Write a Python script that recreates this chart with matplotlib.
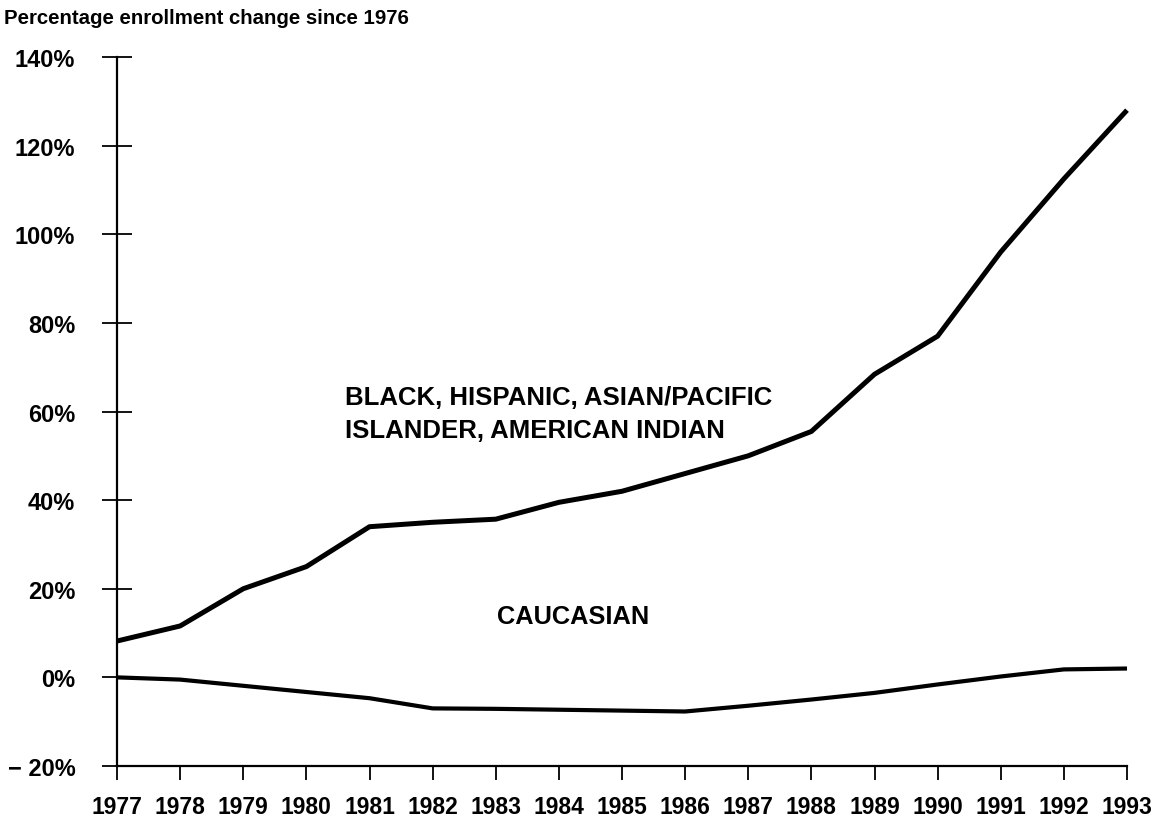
import numpy as np
import matplotlib.pyplot as plt

# values (percent change since 1976)
years = list(range(1977, 1994))
minority = [8.2, 11.6, 20.0, 25.0, 34.0, 35.0, 35.7, 39.5, 42.0, 46.0,
            50.0, 55.5, 68.4, 77.0, 96.0, 112.5, 128.0]
caucasian = [0.0, -0.5, -1.9, -3.3, -4.7, -7.0, -7.1, -7.3, -7.5, -7.7,
             -6.4, -5.0, -3.5, -1.6, 0.2, 1.8, 2.0]
y_ticks = [-20, 0, 20, 40, 60, 80, 100, 120, 140]
y_labels = ['\u2212 20%', '0%', '20%', '40%', '60%', '80%', '100%', '120%', '140%']

plt.rcParams['font.family'] = ['Liberation Sans', 'DejaVu Sans']
plt.rcParams['font.weight'] = 'bold'

fig = plt.figure(figsize=(11.59, 8.2), dpi=100, facecolor='white')
ax = fig.add_axes([117 / 1159, 1 - 767 / 820, (1127 - 117) / 1159, (767 - 58) / 820])

ax.plot(years, minority, color='black', linewidth=3.6, solid_capstyle='butt', clip_on=False)
ax.plot(years, caucasian, color='black', linewidth=3.0, solid_capstyle='butt', clip_on=False)

ax.set_xlim(1977, 1993)
ax.set_ylim(-20, 140)

ax.set_xticks(years)
ax.set_xticklabels([str(y) for y in years], fontsize=16.5, fontweight='bold')
ax.set_yticks(y_ticks)
ax.set_yticklabels(y_labels, fontsize=17, fontweight='bold')

ax.tick_params(axis='y', direction='inout', length=22, width=1.3, pad=19, colors='black')
ax.tick_params(axis='x', direction='out', length=10, width=1.3, pad=11, colors='black')

for side in ['top', 'right']:
    ax.spines[side].set_visible(False)
for side in ['left', 'bottom']:
    ax.spines[side].set_linewidth(1.6)
    ax.spines[side].set_color('black')

ax.text(1980.61, 59.5, 'BLACK, HISPANIC, ASIAN/PACIFIC\nISLANDER, AMERICAN INDIAN',
        fontsize=18.5, fontweight='bold', ha='left', va='center', linespacing=1.45)
ax.text(1983.02, 13.8, 'CAUCASIAN', fontsize=18.3, fontweight='bold', ha='left', va='center')

fig.text(4 / 1159, 1 - 19 / 820, 'Percentage enrollment change since 1976',
         fontsize=14.7, fontweight='bold', ha='left', va='center')

fig.savefig('out.png', dpi=100, facecolor='white')
